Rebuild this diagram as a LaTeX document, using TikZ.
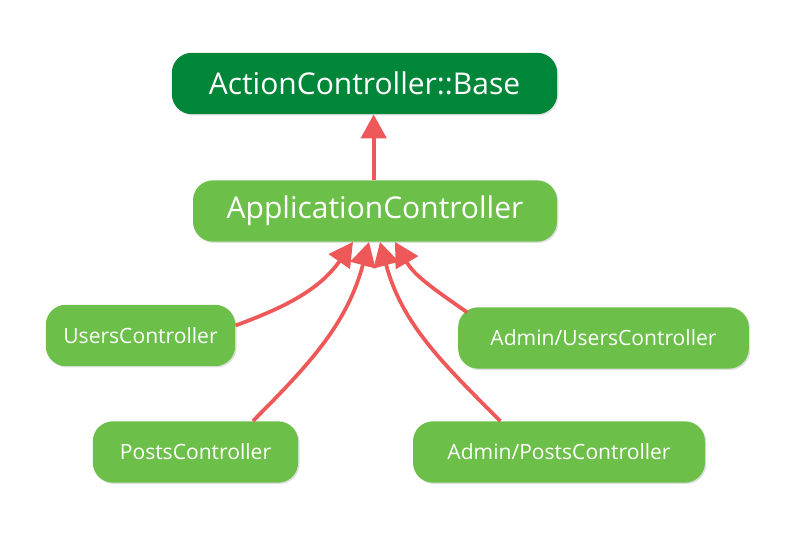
\documentclass[tikz,border=0pt]{standalone}
\usepackage{fontspec}
\setmainfont{Open Sans}
\usetikzlibrary{arrows.meta,shadows}
\definecolor{basegreen}{RGB}{0,134,56}
\definecolor{ctrlgreen}{RGB}{108,192,74}
\definecolor{arrowred}{RGB}{238,88,88}

\begin{document}
\begin{tikzpicture}[
        x=0.75pt, y=0.75pt,
        box/.style={rounded corners=15pt, text=white, inner sep=0pt, minimum height=46pt,
          drop shadow={opacity=0.25, shadow xshift=1pt, shadow yshift=-1pt}},
        big/.style={box, font=\fontsize{22.5}{26}\selectfont},
        small/.style={box, fill=ctrlgreen, font=\fontsize{15.8}{19}\selectfont},
        inherit/.style={draw=arrowred, line width=2.8pt, -{Triangle[width=19pt,length=18pt]}}
      ]
      \useasboundingbox (0,0) rectangle (793,538);
      \node[big, fill=basegreen, minimum width=289pt] (base) at (364.5,454.5) {ActionController::Base};
      \node[big, fill=ctrlgreen, minimum width=273pt] (app) at (375,327) {ApplicationController};
      \node[small, minimum width=142pt] (users) at (140.5,202.5) {UsersController};
      \node[small, minimum width=154pt] (posts) at (195.5,86) {PostsController};
      \node[small, minimum width=218pt] (adminusers) at (603.5,200) {Admin/UsersController};
      \node[small, minimum width=219pt] (adminposts) at (559,86) {Admin/PostsController};

      \draw[inherit] ([xshift=-1pt]app.north) -- ([xshift=-1pt]app.north |- base.south);
      \draw[inherit] ([yshift=7.5pt]users.east) to[out=20,in=-125] ([xshift=-16.5pt]app.south);
      \draw[inherit] ([xshift=43pt]posts.north) to[out=45,in=-105] ([xshift=-4.5pt]app.south);
      \draw[inherit] ([xshift=-44pt]adminposts.north) to[out=135,in=-75] ([xshift=3.75pt]app.south);
      \draw[inherit] ([xshift=7pt,yshift=-4pt]adminusers.north west) to[out=145,in=-60] ([xshift=15pt]app.south);
    \end{tikzpicture}
\end{document}
